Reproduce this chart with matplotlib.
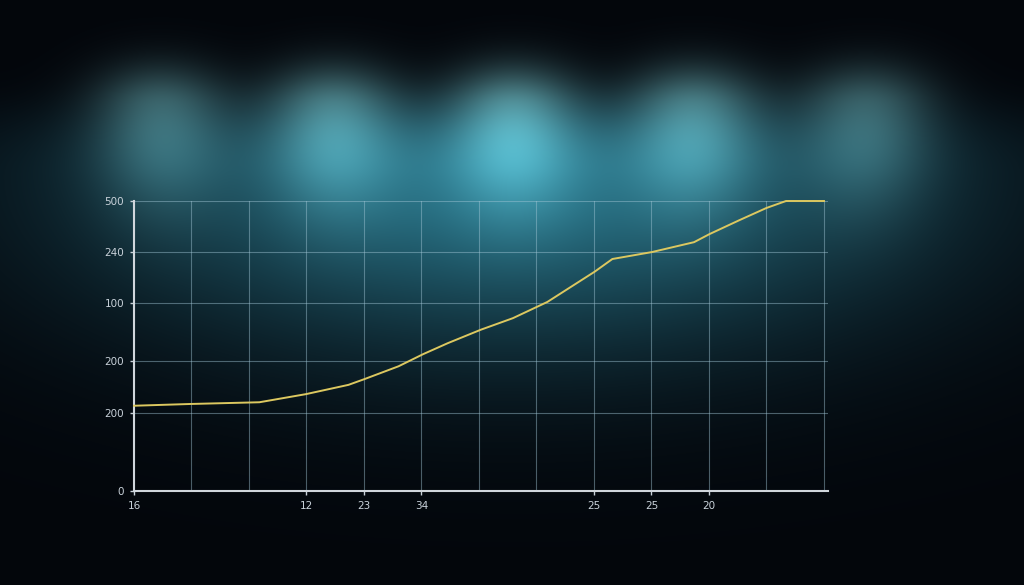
import numpy as np
import matplotlib
matplotlib.use("Agg")
import matplotlib.pyplot as plt
from matplotlib.ticker import FixedLocator, MultipleLocator

# ---- data ----
x_vals = [0.0, 0.97, 2.18, 2.99, 3.73, 4.01, 4.60, 5.03, 5.46, 6.03, 6.59,
          7.19, 8.01, 8.32, 9.01, 9.74, 10.01, 10.53, 11.0, 11.34, 12.0]
y_vals = [147, 150, 153, 167, 183, 193, 215, 236, 255, 278, 298,
          326, 378, 400, 412, 429, 443, 467, 488, 500, 500]
x_tick_pos = [0, 3, 4, 5, 8, 9, 10]
x_tick_labels = ["16", "12", "23", "34", "25", "25", "20"]
y_tick_pos = [0, 134.5, 224, 324, 412, 500]
y_tick_labels = ["0", "200", "200", "100", "240", "500"]

W, H = 1024, 585
fig = plt.figure(figsize=(W / 100, H / 100), dpi=100)

# ---- background ----
yy, xx = np.mgrid[0:H, 0:W].astype(float)
img = np.zeros((H, W, 3)) + np.array([3, 6, 11], float)
# broad haze
hy = np.where(yy < 175, 85.0, 170.0)
haze = np.exp(-(((xx - 512) / 400) ** 2) - (((yy - 175) / hy) ** 2))
haze *= 1 / (1 + np.exp(-(yy - 95) / 15))
img += haze[..., None] * np.array([35, 105, 120], float)
# light spots
spots_x = [160, 333, 513, 693, 866]
spots_a = [0.75, 0.9, 1.0, 0.9, 0.72]
sy = 105
for sx, a in zip(spots_x, spots_a):
    sig_y = np.where(yy < sy, 42.0, 95.0)
    s = np.exp(-(((xx - sx) / 66) ** 2) - (((yy - sy) / sig_y) ** 2))
    img += a * s[..., None] * np.array([68, 108, 108], float)
img = np.clip(img, 0, 255) / 255.0
bg = fig.add_axes([0, 0, 1, 1])
bg.imshow(img, aspect="auto", extent=[0, W, H, 0])
bg.axis("off")

# ---- chart ----
ax = fig.add_axes([134 / W, (H - 491) / H, 694 / W, 290 / H])
ax.patch.set_alpha(0)
ax.set_xlim(0, 12.07)
ax.set_ylim(0, 500)

ax.plot(x_vals, y_vals, color="#dcc860", lw=1.4, clip_on=False, zorder=3)

ax.xaxis.set_major_locator(FixedLocator(x_tick_pos))
ax.set_xticklabels(x_tick_labels)
ax.xaxis.set_minor_locator(MultipleLocator(1))
ax.xaxis.remove_overlapping_locs = False
ax.yaxis.set_major_locator(FixedLocator(y_tick_pos))
ax.set_yticklabels(y_tick_labels)

gcol = "#a2c6d6"
ax.grid(True, which="minor", axis="x", color=gcol, alpha=0.45, lw=0.8)
ax.grid(True, which="major", axis="y", color=gcol, alpha=0.45, lw=0.8)
ax.tick_params(axis="x", which="minor", length=0)
ax.tick_params(axis="both", which="major", colors="#c9d2da", labelsize=7.5,
               length=3, width=1, pad=4)

for side in ["top", "right"]:
    ax.spines[side].set_visible(False)
for side in ["left", "bottom"]:
    ax.spines[side].set_color("#d0d6dc")
    ax.spines[side].set_linewidth(1.5)
ax.spines["bottom"].set_bounds(0, 12.07)

fig.savefig("out.png", dpi=100)
